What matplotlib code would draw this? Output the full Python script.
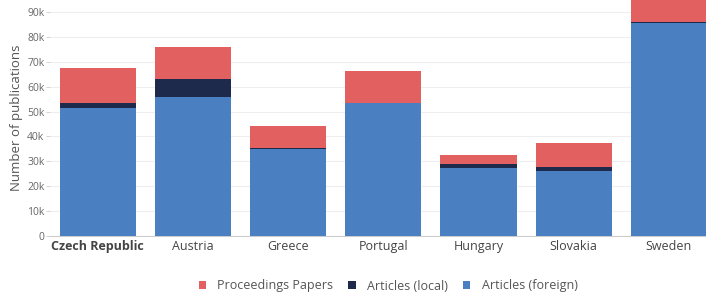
import matplotlib.pyplot as plt
import numpy as np

countries = ["Czech Republic", "Austria", "Greece", "Portugal", "Hungary", "Slovakia", "Sweden"]
articles_foreign = [51500, 56000, 35000, 53300, 27300, 26200, 85500]
articles_local = [2000, 7000, 300, 300, 1600, 1600, 300]
proceedings = [14000, 13000, 9000, 12800, 3600, 9500, 12000]

c_foreign = "#4a80c2"
c_local = "#1e2a4c"
c_proc = "#e36060"

plt.rcParams['font.family'] = ['Open Sans', 'DejaVu Sans']

fig = plt.figure(figsize=(7.06, 2.96), dpi=100)
ax = fig.add_axes([50 / 706, 60 / 296, 656 / 706, 236 / 296])

x = np.arange(len(countries))
w = 0.8
foreign = np.array(articles_foreign)
local = np.array(articles_local)
proc = np.array(proceedings)
ax.bar(x, foreign, w, color=c_foreign, label="Articles (foreign)", zorder=3)
ax.bar(x, local, w, bottom=foreign, color=c_local, label="Articles (local)", zorder=3)
ax.bar(x, proc, w, bottom=foreign + local, color=c_proc, label="Proceedings Papers", zorder=3)

ax.set_xlim(-0.5, 6.39)
ax.set_ylim(0, 94800)
ticks = np.arange(0, 90001, 10000)
ax.set_yticks(ticks)
ax.set_yticklabels(["0"] + ["%dk" % (t // 1000) for t in ticks[1:]])
ax.yaxis.grid(True, color="#eeeeee", linewidth=0.8, zorder=0)
ax.set_xticks(x)
ax.set_xticklabels(countries)
ax.get_xticklabels()[0].set_fontweight("bold")
ax.tick_params(axis="x", length=0, pad=3, labelsize=9, colors="#444444")
ax.tick_params(axis="y", length=3, width=0.6, color="#cccccc", pad=1, labelsize=7.5, labelcolor="#666666")
for s in ["top", "right", "left"]:
    ax.spines[s].set_visible(False)
ax.spines["bottom"].set_color("#cccccc")
ax.spines["bottom"].set_linewidth(0.8)
ax.set_ylabel("Number of publications", fontsize=9.5, color="#555555", labelpad=3)

handles, labels = ax.get_legend_handles_labels()
handles = handles[::-1]
labels = labels[::-1]
fig.legend(handles, labels, loc="center", bbox_to_anchor=(388 / 706, 1 - 286 / 296), ncol=3,
           frameon=False, fontsize=9, handlelength=0.6, handleheight=0.6, handletextpad=0.9,
           columnspacing=1.2, labelcolor="#555555")

fig.savefig("out.png", dpi=100)
